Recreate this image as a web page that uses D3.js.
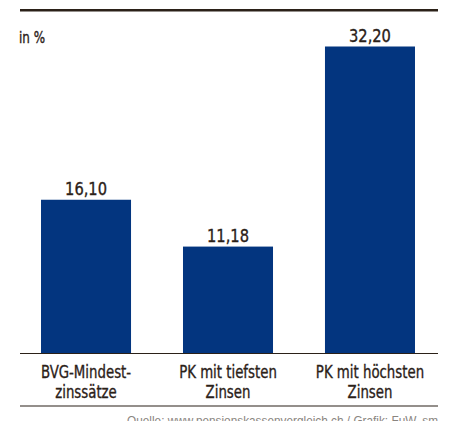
<!DOCTYPE html>
<html>
<head>
<meta charset="utf-8">
<script src="https://cdn.jsdelivr.net/npm/d3@7"></script>
<style>
  body { margin: 0; background: #fff; }
  svg text { font-family: "DejaVu Sans Condensed", "DejaVu Sans", sans-serif; font-stretch: condensed; fill: #2b2118; stroke: #2b2118; stroke-width: 0.35px; }
</style>
</head>
<body>
<div id="chart"></div>
<script>
// data
var categories = [["BVG-Mindest-", "zinssätze"], ["PK mit tiefsten", "Zinsen"], ["PK mit höchsten", "Zinsen"]];
var values = [16.10, 11.18, 32.20];
var valueLabels = ["16,10", "11,18", "32,20"];
var unitLabel = "in %";
var sourceLabel = "Quelle: www.pensionskassenvergleich.ch / Grafik: FuW, sm";

var width = 462, height = 421;
var left = 20, right = 438;

var svg = d3.select("#chart").append("svg")
    .attr("width", width)
    .attr("height", height);

var x = d3.scaleBand()
    .domain(d3.range(values.length))
    .range([20, 436])
    .paddingInner(0.366)
    .paddingOuter(0.148);

var y = d3.scaleLinear()
    .domain([0, 32.2])
    .range([353, 46.5]);

// top rule
svg.append("line")
    .attr("x1", left).attr("x2", right)
    .attr("y1", 10.3).attr("y2", 10.3)
    .attr("stroke", "#2b2118")
    .attr("stroke-width", 2.5);

svg.append("text")
    .attr("transform", "translate(19,43) scale(0.83,1)")
    .style("font-size", "16px")
    .text(unitLabel);

svg.selectAll("rect")
    .data(values)
    .enter()
    .append("rect")
    .attr("x", function(d, i) { return x(i); })
    .attr("width", x.bandwidth())
    .attr("y", function(d) { return y(d); })
    .attr("height", function(d) { return y(0) - y(d); })
    .attr("fill", "#03357f");

svg.selectAll(".val")
    .data(values)
    .enter()
    .append("text")
    .attr("class", "val")
    .attr("transform", function(d, i) {
        return "translate(" + (x(i) + x.bandwidth() / 2) + "," + (y(d) - 5) + ") scale(0.88,1)";
    })
    .attr("text-anchor", "middle")
    .style("font-size", "18.5px")
    .text(function(d, i) { return valueLabels[i]; });

// baseline
svg.append("line")
    .attr("x1", left).attr("x2", right)
    .attr("y1", 353.5).attr("y2", 353.5)
    .attr("stroke", "#2b2118")
    .attr("stroke-width", 1.2);

var cat = svg.selectAll(".cat")
    .data(categories)
    .enter()
    .append("text")
    .attr("class", "cat")
    .attr("transform", function(d, i) {
        return "translate(" + (x(i) + x.bandwidth() / 2) + ",378) scale(0.8,1)";
    })
    .attr("text-anchor", "middle")
    .style("font-size", "18.5px");

cat.selectAll("tspan")
    .data(function(d) { return d; })
    .enter()
    .append("tspan")
    .attr("x", 0)
    .attr("y", function(d, j) { return j * 20.5; })
    .text(function(d) { return d; });

// bottom rule
svg.append("line")
    .attr("x1", left).attr("x2", right)
    .attr("y1", 406).attr("y2", 406)
    .attr("stroke", "#2b2118")
    .attr("stroke-width", 1.2);

svg.append("text")
    .attr("x", right)
    .attr("y", 425)
    .attr("text-anchor", "end")
    .attr("textLength", 311)
    .attr("lengthAdjust", "spacingAndGlyphs")
    .style("font-family", "'Liberation Sans', sans-serif")
    .style("font-stretch", "normal")
    .style("font-size", "13px")
    .style("fill", "#8a8580")
    .style("stroke", "none")
    .text(sourceLabel);
</script>
</body>
</html>
